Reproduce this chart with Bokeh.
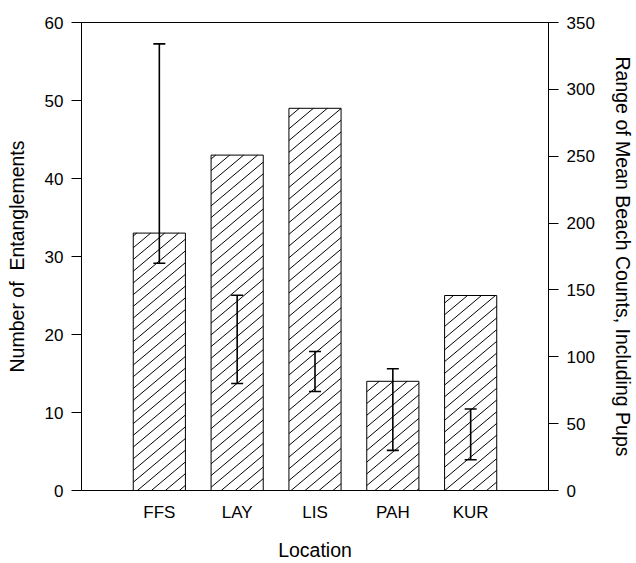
import numpy as np
from bokeh.plotting import figure
from bokeh.models import (Range1d, LinearAxis, FixedTicker, ColumnDataSource,
                          Whisker, TeeHead)
from bokeh.embed import file_html
from bokeh.resources import INLINE

# ---- data ----
locations = ["FFS", "LAY", "LIS", "PAH", "KUR"]
positions = [1, 2, 3, 4, 5]
entanglements = [33, 43, 49, 14, 25]
count_low = [170, 80, 74, 30, 23]
count_high = [334, 146, 104, 91, 61]
left_ticks = [0, 10, 20, 30, 40, 50, 60]
right_ticks = [0, 50, 100, 150, 200, 250, 300, 350]

FONT = "Liberation Sans"
W, H = 636, 563
BL, BR, BT, BB = 81, 87, 22, 62
X0, X1 = 0, 6
Y0, Y1 = 0, 60
BAR_W = 0.67

p = figure(width=W, height=H, output_backend="svg", toolbar_location=None,
           x_range=Range1d(X0, X1), y_range=Range1d(Y0, Y1),
           min_border_left=BL, min_border_right=BR, min_border_top=BT,
           min_border_bottom=BB)
p.extra_y_ranges = {"right": Range1d(0, 350)}

p.xgrid.visible = False
p.ygrid.visible = False
p.outline_line_color = "black"
p.outline_line_width = 1
p.background_fill_color = "white"
p.border_fill_color = "white"

# white bar bodies
src = ColumnDataSource(dict(x=positions, top=entanglements))
p.vbar(x="x", top="top", bottom=0, width=BAR_W, source=src,
       fill_color="white", line_color=None)

# "/" diagonal hatching (about 40 degrees) clipped to each bar, derived from bar data
sx = (W - BL - BR) / (X1 - X0)   # px per x unit
sy = (H - BT - BB) / (Y1 - Y0)   # px per y unit
PX, PY = 14.0, 12.0              # hatch period in px (horizontal, vertical)
hx0, hy0, hx1, hy1 = [], [], [], []
for xc, top in zip(positions, entanglements):
    a = (xc - BAR_W / 2) * sx
    b = (xc + BAR_W / 2) * sx
    hh = top * sy
    kmin = int(np.floor(a / PX - hh / PY)) - 1
    kmax = int(np.ceil(b / PX)) + 1
    for k in range(kmin, kmax + 1):
        xa = max(a, PX * k)
        xb = min(b, PX * (k + hh / PY))
        if xb - xa <= 0.5:
            continue
        ya_ = PY * (xa / PX - k)
        yb_ = PY * (xb / PX - k)
        hx0.append(xa / sx); hy0.append(ya_ / sy)
        hx1.append(xb / sx); hy1.append(yb_ / sy)
p.segment(x0=hx0, y0=hy0, x1=hx1, y1=hy1, line_color="black", line_width=1)

# bar outlines
p.vbar(x="x", top="top", bottom=0, width=BAR_W, source=src,
       fill_color=None, line_color="black", line_width=1)

esrc = ColumnDataSource(dict(x=positions, lo=count_low, hi=count_high))
w = Whisker(base="x", lower="lo", upper="hi", source=esrc, y_range_name="right",
            line_color="black", line_width=1.6, level="overlay",
            upper_head=TeeHead(size=12, line_width=1.6, line_color="black"),
            lower_head=TeeHead(size=12, line_width=1.6, line_color="black"))
p.add_layout(w)

# left axis
ya = p.yaxis[0]
ya.ticker = FixedTicker(ticks=left_ticks)
ya.axis_label = "Number of\u00a0 Entanglements"

# bottom axis
xa_ = p.xaxis[0]
xa_.ticker = FixedTicker(ticks=positions)
xa_.major_label_overrides = {pos: lab for pos, lab in zip(positions, locations)}
xa_.axis_label = "Location"
xa_.major_tick_out = 0
xa_.major_tick_in = 0
xa_.major_label_standoff = 12
xa_.axis_label_standoff = 14

# right axis
ra = LinearAxis(y_range_name="right", ticker=FixedTicker(ticks=right_ticks),
                axis_label="Range of Mean Beach Counts, Including Pups")
p.add_layout(ra, "right")

for ax in [ya, xa_, ra]:
    ax.major_label_text_font = FONT
    ax.major_label_text_font_size = "17px"
    ax.major_label_text_color = "black"
    ax.axis_label_text_font = FONT
    ax.axis_label_text_font_size = "19.5px"
    ax.axis_label_text_font_style = "normal"
    ax.axis_label_text_color = "black"
    ax.axis_line_color = "black"
    ax.axis_line_width = 1
    ax.major_tick_line_color = "black"
    ax.minor_tick_line_color = None

for ax in [ya, ra]:
    ax.major_tick_out = 10
    ax.major_tick_in = 0
    ax.major_label_standoff = 8
    ax.axis_label_standoff = 14

open("out.html", "w").write(file_html(p, INLINE))
